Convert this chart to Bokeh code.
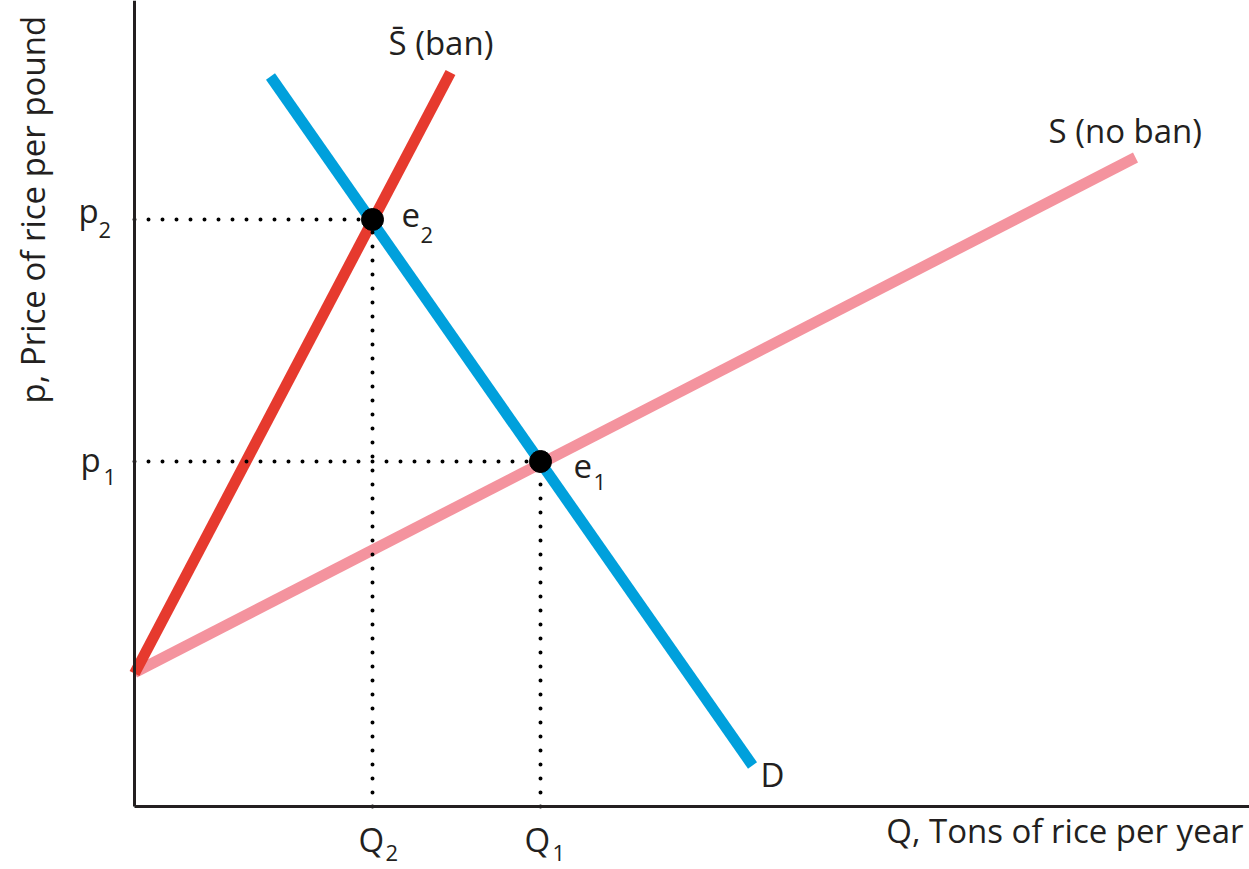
from bokeh.plotting import figure
from bokeh.models import Range1d, Label, FixedTicker
from bokeh.embed import file_html
from bokeh.resources import INLINE
import math

# ---- data (economic units: quantity on x, price on y) ----
s_noban_q = [0.0, 10.01]
s_noban_p = [1.34, 6.49]
s_ban_q = [0.0, 3.16]
s_ban_p = [1.33, 7.34]
d_q = [1.36, 6.18]
d_p = [7.30, 0.41]
eq_names = ["e2", "e1"]
eq_q = [2.38, 4.06]
eq_p = [5.87, 3.45]
axis_top = 8.06
axis_right = 11.15

TXT = "#231f20"
FONT = "Open Sans"

p = figure(width=1249, height=869, output_backend="svg", toolbar_location=None,
           x_range=Range1d(-1.34, 11.15), y_range=Range1d(-0.63, 8.06),
           min_border=0, background_fill_color="white",
           border_fill_color="white", outline_line_color=None)
p.grid.visible = False
for ax in (p.xaxis[0], p.yaxis[0]):
    ax.ticker = FixedTicker(ticks=[])
    ax.fixed_location = 0
    ax.axis_line_width = 3
    ax.axis_line_color = TXT
    ax.major_tick_line_color = None
    ax.minor_tick_line_color = None
    ax.major_label_text_font_size = "0px"
p.xaxis[0].bounds = (0, axis_right)
p.yaxis[0].bounds = (0, axis_top)

# curves
p.line(s_noban_q, s_noban_p, line_color="#f4939e", line_width=11)
p.line(s_ban_q, s_ban_p, line_color="#e63a2e", line_width=11)
p.line(d_q, d_p, line_color="#00a0dc", line_width=11)

# dotted guides
p.segment(x0=[0.0] * len(eq_q), y0=eq_p, x1=eq_q, y1=eq_p,
          line_color="black", line_width=4, line_dash="0 14", line_cap="round")
p.segment(x0=eq_q, y0=[0.0] * len(eq_q), x1=eq_q, y1=eq_p,
          line_color="black", line_width=4, line_dash="0 14", line_cap="round")

# equilibria
p.scatter(eq_q, eq_p, size=22, color="black")

BIG, SUB = 33, 22
def lab(x, y, text, size=BIG, angle=0.0, align="left"):
    # small empirical baseline correction of the svg text renderer
    shift = 0.13 if size == BIG else 0.09
    if angle:
        x -= shift
    else:
        y += shift
    p.add_layout(Label(x=x, y=y, text=text, text_font=FONT,
                       text_font_size=f"{size}px", text_color=TXT,
                       text_align=align, text_baseline="alphabetic", angle=angle))

# curve labels
lab(2.54, 7.51, "S\u0304 (ban)")
lab(9.14, 6.63, "S (no ban)")
lab(6.26, 0.19, "D")
# equilibrium labels
lab(2.67, 5.79, "e")
lab(2.86, 5.63, "2", SUB)
lab(4.39, 3.28, "e")
lab(4.59, 3.16, "1", SUB)
# price labels
lab(-0.56, 5.83, "p")
lab(-0.36, 5.68, "2", SUB)
lab(-0.54, 3.34, "p")
lab(-0.31, 3.21, "1", SUB)
# quantity labels
lab(2.24, -0.46, "Q")
lab(2.51, -0.55, "2", SUB)
lab(3.90, -0.46, "Q")
lab(4.18, -0.55, "1", SUB)
# axis titles
lab(11.09, -0.37, "Q, Tons of rice per year", align="right")
lab(-0.89, 4.03, "p, Price of rice per pound", angle=math.pi / 2)

open("out.html", "w").write(file_html(p, INLINE))
